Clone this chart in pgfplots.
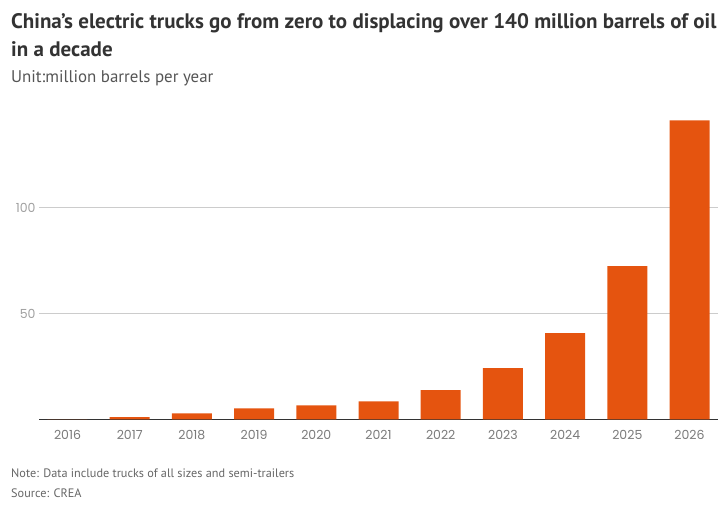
\documentclass[border=0pt]{standalone}
\usepackage{pgfplots}
\pgfplotsset{compat=1.18}
\usepackage{fontspec}
\setmainfont{PT Sans}
\newfontfamily\tickfont{Poppins}
\definecolor{barc}{HTML}{E5540F}
\definecolor{titlec}{HTML}{333333}
\definecolor{subc}{HTML}{555555}
\definecolor{notec}{HTML}{666666}
\definecolor{xtickc}{HTML}{7A7A7A}
\definecolor{ytickc}{HTML}{A0A0A0}
\definecolor{gridc}{HTML}{CCCCCC}
\begin{document}
\begin{tikzpicture}[x=1pt,y=1pt]
\useasboundingbox (0,0) rectangle (725,513);
\node[anchor=base west, inner sep=0, text=titlec, font=\fontsize{21}{24}\selectfont\bfseries] at (11,484) {China’s electric trucks go from zero to displacing over 140 million barrels of oil};
\node[anchor=base west, inner sep=0, text=titlec, font=\fontsize{21}{24}\selectfont\bfseries] at (11,456) {in a decade};
\node[anchor=base west, inner sep=0, text=subc, font=\fontsize{16.9}{19}\selectfont] at (11,430) {Unit:million barrels per year};
\node[anchor=base west, inner sep=0, text=notec, font=\fontsize{12.25}{14}\selectfont] at (11,35.7) {Note: Data include trucks of all sizes and semi-trailers};
\node[anchor=base west, inner sep=0, text=notec, font=\fontsize{12.25}{14}\selectfont] at (11,15) {Source: CREA};
\begin{axis}[
  at={(39pt,93.7pt)}, anchor=south west,
  scale only axis, width=679pt, height=307pt,
  xmin=-0.458, xmax=10.458, ymin=0, ymax=145,
  axis x line=bottom, axis y line=left,
  y axis line style={draw=none},
  x axis line style={draw=titlec, line width=1pt, -},
  major tick length=0pt,
  xtick={0,...,10},
  xticklabels={2016,2017,2018,2019,2020,2021,2022,2023,2024,2025,2026},
  ytick={50,100},
  ymajorgrids, grid style={gridc, line width=0.8pt},
  xticklabel style={font=\tickfont\fontsize{12.5}{14}\selectfont, text=xtickc, anchor=base, yshift=-20pt},
  yticklabel style={font=\tickfont\fontsize{12.5}{14}\selectfont, text=ytickc},
  /pgf/number format/assume math mode=true,
  ybar, bar width=40pt, bar shift=0pt,
  clip=false,
]
\addplot[fill=barc, draw=none] coordinates {
(0,0) (1,1.0) (2,2.8) (3,5.2) (4,6.6) (5,8.5) (6,13.8) (7,24.2) (8,40.7) (9,72.3) (10,141.2)
};
\end{axis}
\end{tikzpicture}
\end{document}
